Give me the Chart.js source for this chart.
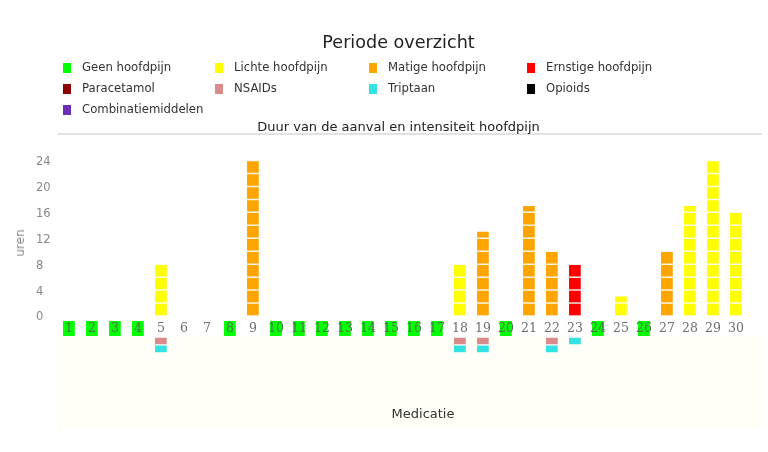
<!DOCTYPE html>
<html><head><meta charset="utf-8">
<script src="https://cdn.jsdelivr.net/npm/chart.js@4/dist/chart.umd.min.js"></script>
<style>
html,body{margin:0;padding:0;background:#fff;}
#wrap{position:relative;width:768px;height:452px;overflow:hidden;font-family:"DejaVu Sans",sans-serif;}
#c{position:absolute;left:0;top:0;}
.t{position:absolute;white-space:nowrap;line-height:1;}
#title{left:398.5px;top:34px;font-size:17.6px;color:#222;transform:translateX(-50%);}
#sub{left:398.5px;top:120px;font-size:13px;color:#222;transform:translateX(-50%);}
#yt{left:20px;top:243px;font-size:12px;color:#888;transform:translate(-50%,-50%) rotate(-90deg);}
#mt{left:423px;top:407px;font-size:13px;color:#333;transform:translateX(-50%);}
.lb{position:absolute;width:8px;height:10px;}
.lt{position:absolute;font-size:11.7px;line-height:1;color:#333;white-space:nowrap;}
</style></head><body>
<div id="wrap">
<canvas id="c" width="768" height="452"></canvas>
<div id="title" class="t">Periode overzicht</div>
<div id="legend"></div>
<div id="sub" class="t">Duur van de aanval en intensiteit hoofdpijn</div>
<div id="yt" class="t">uren</div>
<div id="mt" class="t">Medicatie</div>
</div>
<script>
// ---- data ----
const days = ['1','2','3','4','5','6','7','8','9','10','11','12','13','14','15','16','17','18','19','20','21','22','23','24','25','26','27','28','29','30'];
const hours = [0,0,0,0,8,0,0,0,24,0,0,0,0,0,0,0,0,8,13,0,17,10,8,0,3,0,10,17,24,16];
const intensity = ['geen','geen','geen','geen','licht','','','geen','matig',
  'geen','geen','geen','geen','geen','geen','geen','geen',
  'licht','matig','geen','matig','matig','ernstig','geen','licht','geen','matig','licht','licht','licht'];
const paracetamol = [0,0,0,0,0,0,0,0,0,0,0,0,0,0,0,0,0,0,0,0,0,0,0,0,0,0,0,0,0,0];
const nsaids      = [0,0,0,0,1,0,0,0,0,0,0,0,0,0,0,0,0,1,1,0,0,1,0,0,0,0,0,0,0,0];
const triptaan    = [0,0,0,0,1,0,0,0,0,0,0,0,0,0,0,0,0,1,1,0,0,1,1,0,0,0,0,0,0,0];
const opioids     = [0,0,0,0,0,0,0,0,0,0,0,0,0,0,0,0,0,0,0,0,0,0,0,0,0,0,0,0,0,0];
const combinatie  = [0,0,0,0,0,0,0,0,0,0,0,0,0,0,0,0,0,0,0,0,0,0,0,0,0,0,0,0,0,0];
const yTickValues = [0,4,8,12,16,20,24];
const legendLabels = ['Geen hoofdpijn','Lichte hoofdpijn','Matige hoofdpijn','Ernstige hoofdpijn',
  'Paracetamol','NSAIDs','Triptaan','Opioids','Combinatiemiddelen'];

// ---- styles / layout ----
const legendColors = ['#00ff00','#ffff00','#ffa500','#ff0000','#8b0000','#d98a8a','#33e3e3','#000000','#6a30b5'];
const legendCols = [63,215,369,527];
const legendRows = [72,93,114];
const GEEN_BOX = [-0.77,-3.09];
const MED_SLOTS = [[-3.35,-4.35],[-4.55,-5.6]];

const leg = document.getElementById('legend');
legendLabels.forEach((lab,i)=>{
  const c = i%4, r = Math.floor(i/4);
  const b = document.createElement('div'); b.className='lb';
  b.style.left = legendCols[c]+'px'; b.style.top=(legendRows[r]-9.5)+'px'; b.style.background=legendColors[i];
  const t = document.createElement('div'); t.className='lt'; t.textContent=lab;
  t.style.left=(legendCols[c]+19)+'px'; t.style.top=(legendRows[r]-9.9)+'px';
  leg.appendChild(b); leg.appendChild(t);
});

const sev = (k) => hours.map((h,i)=> intensity[i]===k ? h : null);
const geenData = intensity.map(k => k==='geen' ? GEEN_BOX : null);
const meds = [paracetamol, nsaids, triptaan, opioids, combinatie];
const medData = meds.map(()=>days.map(()=>null));
days.forEach((d,i)=>{
  let slot = 0;
  meds.forEach((m,j)=>{ if (m[i]) { medData[j][i] = MED_SLOTS[Math.min(slot,MED_SLOTS.length-1)]; slot++; } });
});

const common = {grouped:false, categoryPercentage:1, barPercentage:0.51, borderWidth:0};
const datasets = [
  {label:'Lichte hoofdpijn', data:sev('licht'), backgroundColor:legendColors[1], ...common},
  {label:'Matige hoofdpijn', data:sev('matig'), backgroundColor:legendColors[2], ...common},
  {label:'Ernstige hoofdpijn', data:sev('ernstig'), backgroundColor:legendColors[3], ...common},
  {label:'Geen hoofdpijn', data:geenData, backgroundColor:legendColors[0], ...common},
];
['Paracetamol','NSAIDs','Triptaan','Opioids','Combinatiemiddelen'].forEach((l,j)=>{
  datasets.push({label:l, data:medData[j], backgroundColor:legendColors[4+j], ...common});
});

const decor = {
  id:'decor',
  beforeDatasetsDraw(chart){
    const ctx = chart.ctx, a = chart.chartArea;
    ctx.save();
    ctx.fillStyle = '#fffff7';
    ctx.fillRect(a.left, 337, 762 - a.left, 430 - 337);
    ctx.strokeStyle = '#e2e2e2'; ctx.lineWidth = 2;
    ctx.beginPath(); ctx.moveTo(a.left, 134); ctx.lineTo(762, 134); ctx.stroke();
    ctx.restore();
  },
  afterDatasetsDraw(chart){
    const ctx = chart.ctx, a = chart.chartArea, y = chart.scales.y;
    ctx.save();
    ctx.strokeStyle = 'rgba(255,255,255,0.9)'; ctx.lineWidth = 1.5;
    for (let v = 0; v <= 24; v += 2) {
      const py = y.getPixelForValue(v);
      ctx.beginPath(); ctx.moveTo(a.left, py); ctx.lineTo(a.right, py); ctx.stroke();
    }
    ctx.restore();
  }
};

new Chart(document.getElementById('c'), {
  type:'bar',
  data:{labels:days, datasets},
  plugins:[decor],
  options:{
    responsive:false, animation:false, devicePixelRatio:1,
    layout:{padding:{left:36, right:20.6, top:134, bottom:22}},
    plugins:{legend:{display:false}, tooltip:{enabled:false}, title:{display:false}},
    scales:{
      x:{type:'category', position:{y:0}, offset:true,
         grid:{display:false, drawTicks:false}, border:{display:false},
         ticks:{z:1, padding:5, autoSkip:false, maxRotation:0, minRotation:0,
           font:{family:'DejaVu Serif', size:12.5},
           color:(c)=> intensity[c.index]==='geen' ? '#4f704f' : '#6e6e6e'}},
      y:{min:-17.6, max:28.1, grid:{display:false}, border:{display:false},
         afterBuildTicks:(s)=>{ s.ticks = yTickValues.map(v=>({value:v})); },
         afterFit:(s)=>{ s.width = 21.4; },
         ticks:{crossAlign:'far', padding:0, labelOffset:1.5, font:{family:'DejaVu Sans', size:11.5}, color:'#888'}}
    }
  }
});
</script>
</body></html>
